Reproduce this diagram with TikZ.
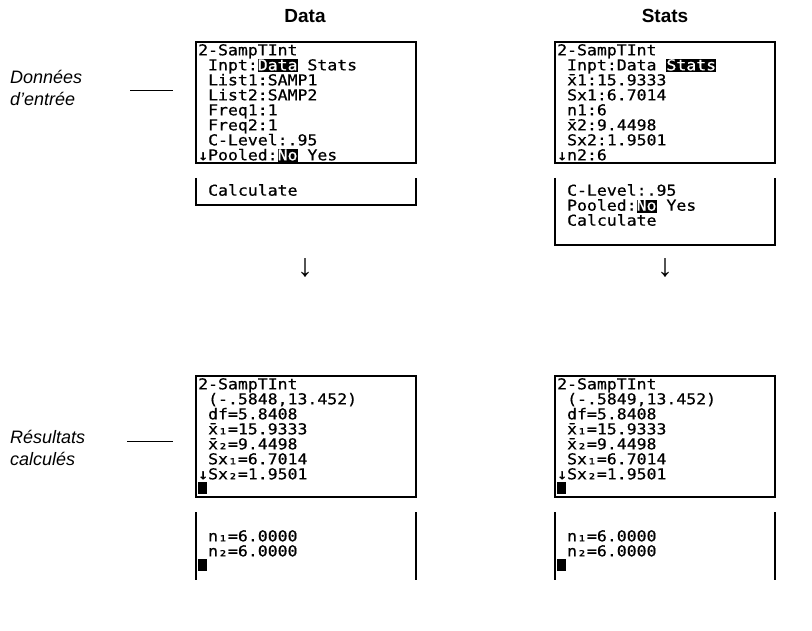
\documentclass[tikz,border=0pt]{standalone}
\usepackage{fontspec}
\setmainfont{Liberation Sans}
\newfontfamily\calcf[FakeStretch=1.1,FakeBold=0.6]{DejaVu Sans Mono}
\newcommand{\scrfont}{\calcf\fontsize{15}{15}\selectfont\lineskiplimit=-30pt \lineskip=0pt\relax}
\newcommand{\inv}[1]{{\setlength{\fboxsep}{0pt}\colorbox{black}{\rule[-2pt]{0pt}{13pt}\textcolor{white}{#1}}}}
\newcommand{\curs}{\rule{9pt}{12pt}}
\begin{document}
\begin{tikzpicture}[x=1pt,y=-1pt,
  scr/.style={anchor=north west,inner sep=0pt,align=left,font=\scrfont},
  lab/.style={align=left,font=\itshape\fontsize{18}{22}\selectfont,anchor=west,inner sep=0pt},
  head/.style={font=\bfseries\fontsize{19}{20}\selectfont},
  bx/.style={line width=1.3pt}]
\useasboundingbox (0,0) rectangle (812,631);
\node[head] (h1) at (305,16) {Data};
\node[head] (h2) at (665,16) {Stats};
\node[lab] (l1) at (10,88) {Données\\d’entrée};
\node[lab] (l2) at (10,448) {Résultats\\calculés};
\coordinate (a1) at (130,90); \coordinate (b1) at (173,90);
\coordinate (a2) at (127,441); \coordinate (b2) at (173,441);
\draw (a1)--(b1); \draw (a2)--(b2);
% screens
\draw[bx] (196,42) rectangle (416,163);
\draw[bx] (555,42) rectangle (775,163);
\draw[bx] (196,376) rectangle (416,497);
\draw[bx] (555,376) rectangle (775,497);
\draw[bx] (196,178)--(196,205)--(416,205)--(416,178);
\draw[bx] (555,178)--(555,245)--(775,245)--(775,178);
\draw[bx] (196,512)--(196,580); \draw[bx] (416,512)--(416,580);
\draw[bx] (555,512)--(555,580); \draw[bx] (775,512)--(775,580);
\node[scr] (s1) at (198,44) {2-SampTInt\\\ Inpt:\inv{Data} Stats\\\ List1:SAMP1\\\ List2:SAMP2\\\ Freq1:1\\\ Freq2:1\\\ C-Level:.95\\↓Pooled:\inv{No} Yes};
\node[scr] (s2) at (198,184) {\ Calculate};
\node[scr] (s3) at (557,44) {2-SampTInt\\\ Inpt:Data \inv{Stats}\\\ x̄1:15.9333\\\ Sx1:6.7014\\\ n1:6\\\ x̄2:9.4498\\\ Sx2:1.9501\\↓n2:6};
\node[scr] (s4) at (557,184) {\ C-Level:.95\\\ Pooled:\inv{No} Yes\\\ Calculate};
\node[font=\fontsize{32}{32}\selectfont] (d1) at (305,268) {↓};
\node[font=\fontsize{32}{32}\selectfont] (d2) at (665,268) {↓};
\node[scr] (s5) at (198,378) {2-SampTInt\\\ (-.5848,13.452)\\\ df=5.8408\\\ x̄₁=15.9333\\\ x̄₂=9.4498\\\ Sx₁=6.7014\\↓Sx₂=1.9501\\\curs};
\node[scr] (s6) at (557,378) {2-SampTInt\\\ (-.5849,13.452)\\\ df=5.8408\\\ x̄₁=15.9333\\\ x̄₂=9.4498\\\ Sx₁=6.7014\\↓Sx₂=1.9501\\\curs};
\node[scr] (s7) at (198,530) {\ n₁=6.0000\\\ n₂=6.0000\\\curs};
\node[scr] (s8) at (557,530) {\ n₁=6.0000\\\ n₂=6.0000\\\curs};
\end{tikzpicture}
\end{document}
